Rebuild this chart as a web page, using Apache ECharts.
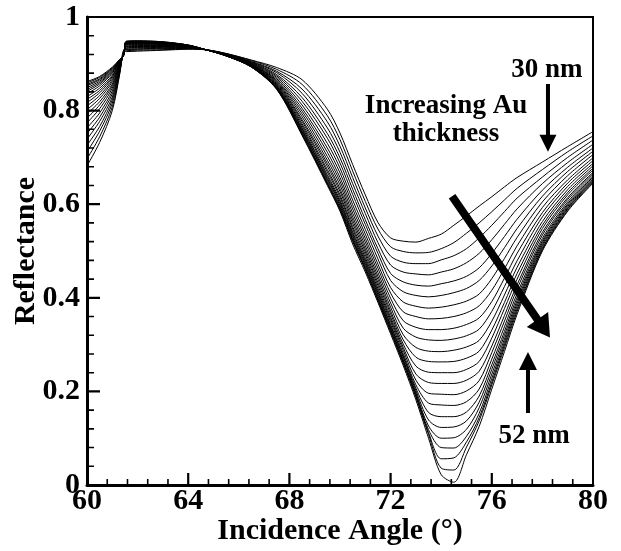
<!DOCTYPE html>
<html>
<head>
<meta charset="utf-8">
<script src="https://cdn.jsdelivr.net/npm/echarts@6/dist/echarts.min.js"></script>
<style>
html,body{margin:0;padding:0;background:#fff;}
#chart{width:621px;height:551px;}
</style>
</head>
<body>
<div id="chart"></div>
<script>
// Incidence angles (degrees) at which reflectance was read
const angles = [60, 60.5, 61, 61.3, 61.45, 61.55, 62, 63, 64, 64.7, 65.5, 66.5, 67.5, 68.5, 69.5, 70, 70.5, 71, 71.5, 72, 72.5, 73, 73.5, 74, 74.5, 75, 75.5, 76, 76.5, 77, 78, 79, 80];
// Au thickness (nm) of each curve
const thicknesses = [30,31,32,33,34,35,36,37,38,39,40,41,42,43,44,45,46,47,48,49,50,51,52];

// Reflectance for each thickness
const r30 = [.682,.732,.800,.880,.928,.926,.927,.929,.931,.930,.922,.908,.892,.866,.803,.752,.685,.620,.561,.528,.521,.519,.527,.536,.555,.575,.596,.616,.637,.657,.690,.723,.755];
const r31 = [.697,.744,.808,.882,.927,.928,.929,.930,.932,.930,.922,.907,.888,.856,.789,.738,.671,.606,.547,.509,.499,.496,.497,.505,.518,.538,.560,.584,.609,.634,.674,.712,.746];
const r32 = [.712,.756,.816,.885,.926,.930,.931,.932,.933,.930,.921,.905,.884,.846,.776,.724,.657,.592,.532,.489,.476,.473,.473,.481,.490,.505,.528,.555,.584,.613,.658,.700,.737];
const r33 = [.726,.766,.823,.887,.926,.931,.932,.933,.933,.930,.921,.904,.881,.837,.763,.711,.644,.580,.518,.470,.455,.451,.449,.455,.462,.475,.495,.524,.557,.590,.644,.689,.728];
const r34 = [.739,.777,.829,.890,.925,.933,.934,.935,.934,.930,.920,.903,.877,.828,.751,.699,.632,.567,.505,.452,.434,.427,.425,.430,.436,.446,.464,.495,.531,.568,.630,.679,.720];
const r35 = [.751,.786,.836,.891,.924,.934,.935,.936,.934,.930,.920,.902,.874,.820,.741,.688,.621,.557,.495,.437,.413,.405,.402,.405,.411,.420,.437,.468,.507,.548,.617,.670,.713];
const r36 = [.763,.795,.842,.894,.924,.936,.937,.937,.935,.930,.920,.901,.871,.812,.730,.677,.609,.546,.483,.422,.391,.382,.378,.380,.385,.393,.408,.441,.484,.529,.605,.661,.706];
const r37 = [.774,.804,.848,.895,.923,.937,.938,.938,.936,.930,.919,.900,.868,.805,.720,.667,.599,.536,.472,.410,.370,.360,.355,.356,.360,.368,.383,.416,.462,.511,.593,.652,.699];
const r38 = [.784,.812,.853,.897,.922,.938,.939,.939,.936,.930,.919,.899,.865,.799,.711,.657,.590,.527,.463,.399,.351,.337,.332,.332,.335,.343,.357,.392,.442,.495,.582,.645,.693];
const r39 = [.793,.819,.857,.899,.922,.940,.941,.940,.937,.930,.919,.899,.863,.793,.702,.649,.581,.519,.454,.389,.335,.316,.310,.309,.312,.319,.333,.371,.424,.479,.573,.638,.687];
const r40 = [.802,.826,.862,.900,.921,.941,.942,.941,.937,.930,.919,.898,.861,.787,.694,.641,.573,.511,.446,.380,.321,.294,.286,.285,.288,.295,.309,.350,.406,.465,.563,.631,.682];
const r41 = [.810,.832,.866,.901,.921,.942,.943,.942,.937,.930,.918,.897,.859,.781,.687,.633,.566,.504,.439,.372,.310,.273,.264,.263,.264,.271,.286,.331,.390,.452,.555,.625,.677];
const r42 = [.817,.838,.870,.903,.921,.943,.944,.943,.938,.930,.918,.897,.857,.777,.681,.627,.559,.498,.432,.366,.301,.254,.241,.240,.240,.247,.264,.314,.377,.440,.548,.620,.673];
const r43 = [.824,.843,.873,.904,.920,.943,.944,.943,.938,.930,.918,.896,.855,.772,.674,.620,.552,.492,.426,.359,.294,.237,.219,.217,.217,.224,.243,.297,.362,.428,.540,.614,.668];
const r44 = [.830,.848,.876,.905,.920,.944,.945,.944,.938,.930,.918,.896,.853,.768,.669,.615,.547,.486,.420,.354,.288,.224,.196,.194,.193,.201,.223,.283,.350,.419,.534,.610,.665];
const r45 = [.836,.853,.880,.906,.919,.945,.946,.944,.939,.930,.918,.895,.852,.764,.663,.609,.541,.481,.415,.349,.281,.214,.175,.171,.170,.178,.205,.269,.338,.409,.527,.605,.661];
const r46 = [.841,.857,.882,.906,.919,.945,.946,.945,.939,.930,.918,.895,.850,.761,.659,.605,.537,.477,.411,.343,.276,.207,.155,.146,.146,.156,.190,.257,.328,.401,.522,.601,.658];
const r47 = [.845,.860,.884,.907,.919,.946,.947,.945,.939,.930,.917,.894,.849,.758,.655,.601,.533,.473,.407,.340,.273,.202,.139,.123,.124,.137,.177,.247,.320,.394,.518,.598,.655];
const r48 = [.849,.863,.886,.908,.919,.946,.947,.946,.939,.930,.917,.894,.848,.756,.652,.597,.529,.469,.403,.336,.268,.197,.126,.100,.101,.119,.165,.237,.312,.388,.514,.595,.653];
const r49 = [.853,.866,.888,.909,.918,.947,.948,.946,.940,.930,.917,.894,.847,.753,.648,.593,.525,.465,.399,.333,.265,.194,.118,.080,.079,.104,.153,.228,.305,.382,.510,.592,.651];
const r50 = [.856,.868,.890,.909,.918,.947,.948,.946,.940,.930,.917,.893,.847,.751,.645,.591,.523,.462,.396,.330,.262,.190,.112,.056,.058,.092,.144,.220,.299,.376,.506,.590,.649];
const r51 = [.859,.871,.891,.909,.918,.948,.949,.947,.940,.930,.917,.893,.846,.749,.643,.588,.520,.460,.394,.327,.260,.188,.108,.036,.032,.081,.137,.214,.293,.371,.503,.587,.647];
const r52 = [.862,.873,.893,.910,.918,.948,.949,.947,.940,.930,.917,.893,.845,.747,.640,.585,.515,.455,.390,.323,.255,.182,.100,.022,.006,.065,.125,.205,.285,.365,.500,.585,.645];

const curves = [r30,r31,r32,r33,r34,r35,r36,r37,r38,r39,r40,r41,r42,r43,r44,r45,r46,r47,r48,r49,r50,r51,r52];

// Axis settings
const X_MIN = 60, X_MAX = 80, X_STEP = 4, X_MINOR = 5;
const Y_MIN = 0, Y_MAX = 1, Y_STEP = 0.2, Y_MINOR = 5;

const W = 621, H = 551;
const GRID = {left: 87, right: 28, top: 17, bottom: 66};
const FONT = '"Liberation Serif", "Times New Roman", serif';

// Tick lengths (in pixels) converted to data units of each axis
const unitX = (X_MAX - X_MIN) / (W - GRID.left - GRID.right);
const unitY = (Y_MAX - Y_MIN) / (H - GRID.top - GRID.bottom);

function tickSeries(name, data, width) {
  return {name: name, type: 'line', data: data, symbol: 'none', showSymbol: false,
    connectNulls: false, silent: true, z: 5, clip: false,
    lineStyle: {color: '#000', width: width, cap: 'butt'}};
}

// One small series per x tick (vertical, inward from the bottom axis)
const xTickSeries = [];
const nX = ((X_MAX - X_MIN) / X_STEP) * X_MINOR;
for (let i = 1; i < nX; i++) {
  const major = i % X_MINOR === 0;
  const v = X_MIN + i * X_STEP / X_MINOR;
  xTickSeries.push(tickSeries('x tick ' + i, [[v, Y_MIN], [v, Y_MIN + (major ? 12 : 6) * unitY]], major ? 2.2 : 1.6));
}
// y ticks (horizontal, inward from the left axis), gaps between ticks
function yTicks(major) {
  const out = [];
  const n = ((Y_MAX - Y_MIN) / Y_STEP) * Y_MINOR;
  for (let i = 1; i < n; i++) {
    if ((i % Y_MINOR === 0) !== major) continue;
    const v = Y_MIN + i * Y_STEP / Y_MINOR;
    out.push([X_MIN, v], [X_MIN + (major ? 13 : 7) * unitX, v], ['-', v]);
  }
  return out;
}

const chart = echarts.init(document.getElementById('chart'), null, {renderer: 'canvas'});

const series = curves.map((vals, i) => ({
  name: thicknesses[i] + ' nm',
  type: 'line',
  data: angles.map((a, j) => [a, vals[j]]),
  showSymbol: false,
  symbol: 'none',
  smooth: 0.3,
  lineStyle: {color: '#000', width: 1},
  silent: true,
  z: 2
}));
series.push(
  tickSeries('y major ticks', yTicks(true), 2.2),
  tickSeries('y minor ticks', yTicks(false), 1.6)
);
xTickSeries.forEach(s => series.push(s));

chart.setOption({
  animation: false,
  backgroundColor: '#fff',
  grid: {left: GRID.left, right: GRID.right, top: GRID.top, bottom: GRID.bottom,
    show: true, borderColor: '#000', borderWidth: 2, containLabel: false, outerBoundsMode: 'none'},
  xAxis: {
    type: 'value', min: X_MIN, max: X_MAX, interval: X_STEP,
    name: 'Incidence Angle (°)', nameLocation: 'middle', nameGap: 31, nameMoveOverlap: false,
    nameTextStyle: {fontFamily: FONT, fontWeight: 'bold', fontSize: 30, color: '#000'},
    axisLine: {show: true, onZero: false, lineStyle: {color: '#000', width: 3}},
    axisTick: {show: false},
    minorTick: {show: false},
    axisLabel: {fontFamily: FONT, fontWeight: 'bold', fontSize: 30, color: '#000', margin: 1},
    splitLine: {show: false}
  },
  yAxis: {
    type: 'value', min: Y_MIN, max: Y_MAX, interval: Y_STEP,
    name: 'Reflectance', nameLocation: 'middle', nameGap: 46, nameMoveOverlap: false,
    nameTextStyle: {fontFamily: FONT, fontWeight: 'bold', fontSize: 30, color: '#000'},
    axisLine: {show: true, onZero: false, lineStyle: {color: '#000', width: 3}},
    axisTick: {show: false},
    minorTick: {show: false},
    axisLabel: {fontFamily: FONT, fontWeight: 'bold', fontSize: 30, color: '#000', margin: 7},
    splitLine: {show: false}
  },
  series: series
});

// Annotation layer, anchored in data coordinates
function px(x, y) { return chart.convertToPixel({gridIndex: 0}, [x, y]); }
function arrowPoly(a, b, shaftW, headL, headW) {
  const p0 = px(a[0], a[1]), p1 = px(b[0], b[1]);
  const dx = p1[0] - p0[0], dy = p1[1] - p0[1];
  const len = Math.sqrt(dx * dx + dy * dy);
  const ux = dx / len, uy = dy / len, qx = -uy, qy = ux;
  const bx = p1[0] - ux * headL, by = p1[1] - uy * headL;
  const s = shaftW / 2, h = headW / 2;
  return [
    [p0[0] + qx * s, p0[1] + qy * s],
    [bx + qx * s, by + qy * s],
    [bx + qx * h, by + qy * h],
    [p1[0], p1[1]],
    [bx - qx * h, by - qy * h],
    [bx - qx * s, by - qy * s],
    [p0[0] - qx * s, p0[1] - qy * s]
  ];
}
function label(text, x, y) {
  const p = px(x, y);
  return {
    type: 'text', z: 10, silent: true,
    style: {text: text, x: p[0], y: p[1], fill: '#000',
      font: 'bold 27px ' + FONT,
      textAlign: 'center', textVerticalAlign: 'middle', align: 'center', verticalAlign: 'middle'}
  };
}
function arrow(a, b, sw, hl, hw) {
  return {type: 'polygon', z: 10, silent: true, shape: {points: arrowPoly(a, b, sw, hl, hw)}, style: {fill: '#000'}};
}

chart.setOption({
  graphic: [
    label('30 nm', 78.18, 0.887),
    label('Increasing Au', 74.19, 0.81),
    label('thickness', 74.19, 0.75),
    label('52 nm', 77.67, 0.105),
    arrow([78.22, 0.857], [78.22, 0.712], 4, 17, 17),
    arrow([77.43, 0.154], [77.43, 0.284], 4, 18, 18),
    arrow([74.43, 0.617], [78.30, 0.315], 8, 22, 26)
  ]
});
</script>
</body>
</html>
